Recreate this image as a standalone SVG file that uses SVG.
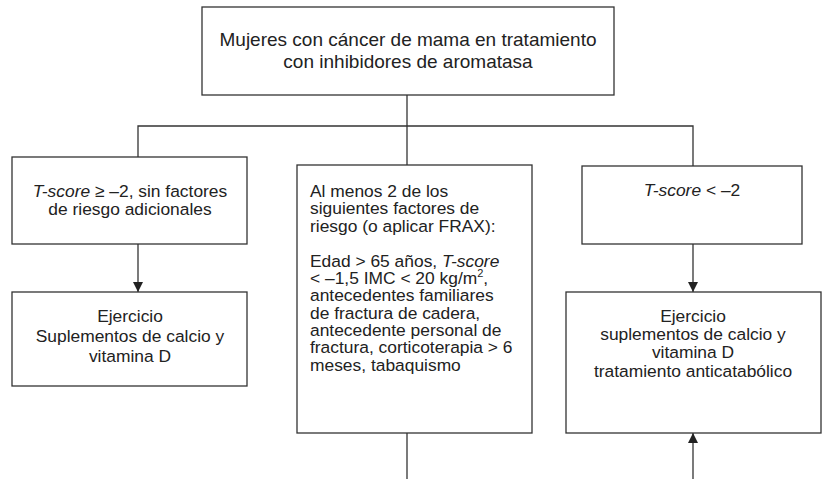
<svg xmlns="http://www.w3.org/2000/svg" width="822" height="479" viewBox="0 0 822 479">
<defs>
<style>
.box{fill:#fff;stroke:#333;stroke-width:1.3}
.ln{fill:none;stroke:#333;stroke-width:1.3}
text{font-family:"Liberation Sans",Arial,sans-serif;fill:#222;font-size:17.4px}
.c{text-anchor:middle}
.top{font-size:19px}
.i{font-style:italic}
</style>
<marker id="ah" viewBox="0 0 10 10" refX="10" refY="5" markerWidth="10" markerHeight="10" markerUnits="userSpaceOnUse" orient="auto">
<path d="M0,0 L10,5 L0,10 Z" fill="#222"/>
</marker>
</defs>
<rect width="822" height="479" fill="#fff"/>
<g id="connectors">
<path class="ln" d="M407,95 V126"/>
<path class="ln" d="M138,157 V126 H693 V166"/>
<path class="ln" d="M407,126 V165"/>
<path class="ln" d="M138,244 V292" marker-end="url(#ah)"/>
<path class="ln" d="M693,244 V292" marker-end="url(#ah)"/>
<path class="ln" d="M407,433 V479"/>
<path class="ln" d="M693,479 V433" marker-end="url(#ah)"/>
</g>
<g id="n-top">
<rect class="box" x="202" y="7" width="412" height="88"/>
<text class="c top" x="408" y="46">Mujeres con cáncer de mama en tratamiento</text>
<text class="c top" x="408" y="68">con inhibidores de aromatasa</text>
</g>
<g id="n-left">
<rect class="box" x="12" y="157" width="235" height="87"/>
<text class="c" x="130" y="197"><tspan class="i">T-score</tspan> ≥ –2, sin factores</text>
<text class="c" x="130" y="215">de riesgo adicionales</text>
</g>
<g id="n-left-bottom">
<rect class="box" x="12" y="292" width="235" height="94"/>
<text class="c" x="130" y="322">Ejercicio</text>
<text class="c" x="130" y="342">Suplementos de calcio y</text>
<text class="c" x="130" y="362">vitamina D</text>
</g>
<g id="n-middle">
<rect class="box" x="297" y="165" width="235" height="268"/>
<text x="310" y="197">Al menos 2 de los</text>
<text x="310" y="214">siguientes factores de</text>
<text x="310" y="232">riesgo (o aplicar FRAX):</text>
<text x="310" y="267">Edad &gt; 65 años, <tspan class="i">T-score</tspan></text>
<text x="310" y="284">&lt; –1,5 IMC &lt; 20 kg/m<tspan font-size="11" dy="-7">2</tspan><tspan dy="7">,</tspan></text>
<text x="310" y="301">antecedentes familiares</text>
<text x="310" y="319">de fractura de cadera,</text>
<text x="310" y="336">antecedente personal de</text>
<text x="310" y="353">fractura, corticoterapia &gt; 6</text>
<text x="310" y="371">meses, tabaquismo</text>
</g>
<g id="n-right">
<rect class="box" x="582" y="166" width="220" height="78"/>
<text class="c" x="692" y="196"><tspan class="i">T-score</tspan> &lt; –2</text>
</g>
<g id="n-right-bottom">
<rect class="box" x="566" y="292" width="255" height="141"/>
<text class="c" x="693" y="322">Ejercicio</text>
<text class="c" x="693" y="340">suplementos de calcio y</text>
<text class="c" x="693" y="358">vitamina D</text>
<text class="c" x="693" y="377">tratamiento anticatabólico</text>
</g>
</svg>
